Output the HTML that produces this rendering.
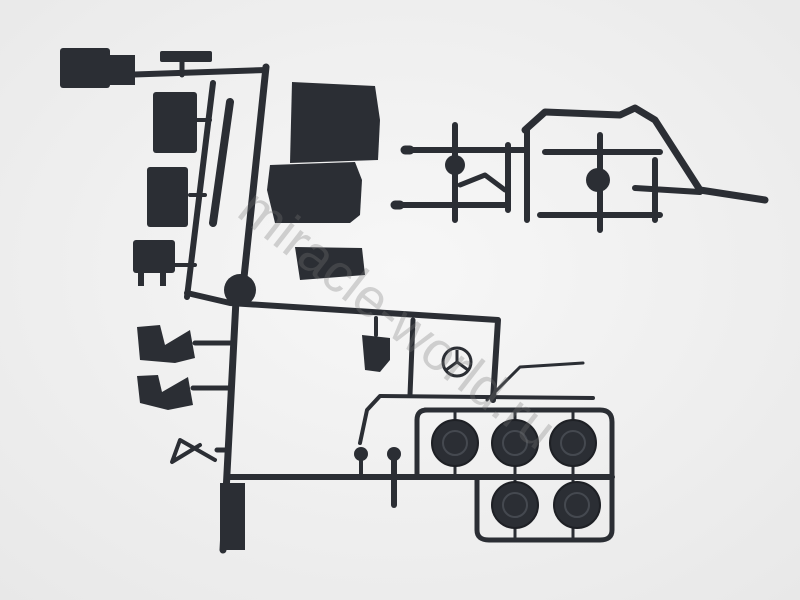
<!DOCTYPE html><html><head><style>html,body{margin:0;padding:0;width:800px;height:600px;overflow:hidden;background:#f2f2f2}</style></head><body>
<svg width="800" height="600" viewBox="0 0 800 600" xmlns="http://www.w3.org/2000/svg">
<defs><radialGradient id="bg" cx="50%" cy="45%" r="75%"><stop offset="0" stop-color="#f7f7f7"/><stop offset="1" stop-color="#e8e8e8"/></radialGradient></defs>
<rect width="800" height="600" fill="url(#bg)"/>
<g stroke="#2b2e34" fill="none" stroke-linecap="round" stroke-linejoin="round">
<path d="M120 75 L266 70" stroke-width="6"/>
<path d="M182 55 L182 75" stroke-width="5"/>
<path d="M266 67 L243 287" stroke-width="7"/>
<path d="M213 83 L187 297" stroke-width="6"/>
<path d="M230 102 L213 223" stroke-width="8"/>
<path d="M187 293 L230 303 L498 320 L493 400" stroke-width="6"/>
<path d="M236 300 L223 550" stroke-width="7"/>
<path d="M195 343 L232 343 M193 388 L230 388 M217 450 L228 450" stroke-width="5"/>
<path d="M197 120 L210 120 M190 195 L205 195 M175 265 L195 265" stroke-width="4"/>
<path d="M413 320 L410 395" stroke-width="5"/>
<path d="M376 318 L376 335" stroke-width="4"/>
<path d="M228 477 L612 477" stroke-width="6"/>
<path d="M360 443 L367 410 L380 396 L593 398" stroke-width="4"/>
<path d="M487 400 L520 367 L583 363" stroke-width="3"/>
<path d="M394 460 L394 505" stroke-width="6"/>
<path d="M361 460 L361 477" stroke-width="4"/>
<path d="M425 410 L600 410 Q612 410 612 422 L612 530 Q612 540 600 540 L489 540 Q477 540 477 530 L477 477 M417 477 L417 420 Q417 410 427 410" stroke-width="5"/>
<path d="M455 410 L455 477 M515 410 L515 540 M573 410 L573 540" stroke-width="3"/>
<path d="M200 445 L172 462 L180 440 L215 460" stroke-width="4"/>
<path d="M405 150 L515 150 M395 205 L505 205 M455 125 L455 220 M508 145 L508 210 M527 130 L527 220 M515 150 L527 150" stroke-width="6"/>
<path d="M460 185 L485 175 L505 190" stroke-width="5"/>
<path d="M525 130 L545 112 L620 115 L635 108 L655 120 L700 190 L765 200" stroke-width="7"/>
<path d="M545 152 L660 152 M540 215 L660 215 M600 135 L600 230 M655 160 L655 220 M635 188 L700 192" stroke-width="6"/>
<path d="M410 150 L405 150 M400 205 L395 205" stroke-width="9"/>
</g>
<g fill="#2b2e34">
<rect x="60" y="48" width="50" height="40" rx="3"/><rect x="110" y="55" width="25" height="30"/>
<rect x="160" y="51" width="52" height="11" rx="2"/>
<rect x="153" y="92" width="44" height="61" rx="3"/>
<rect x="147" y="167" width="41" height="60" rx="3"/>
<rect x="133" y="240" width="42" height="33" rx="3"/>
<rect x="138" y="272" width="6" height="14"/><rect x="160" y="272" width="6" height="14"/>
<path d="M292 82 L375 86 L380 120 L378 160 L290 163 Z"/>
<path d="M270 165 L355 162 L362 180 L360 215 L350 223 L275 223 L267 190 Z"/>
<path d="M295 247 L362 248 L365 275 L300 280 Z"/>
<circle cx="240" cy="290" r="16"/>
<path d="M137 327 L160 325 L165 345 L190 330 L195 358 L175 363 L140 360 Z"/>
<path d="M137 376 L158 375 L162 392 L188 377 L193 405 L168 410 L140 403 Z"/>
<path d="M362 335 L390 338 L390 360 L380 372 L365 370 Z"/>
<circle cx="361" cy="454" r="7"/><circle cx="394" cy="454" r="7"/>
<rect x="220" y="483" width="25" height="67"/>
<circle cx="455" cy="165" r="10"/><circle cx="598" cy="180" r="12"/>
</g>
<g fill="none" stroke="#2b2e34" stroke-width="3">
<circle cx="457" cy="362" r="14"/><path d="M457 362 L457 350 M457 362 L446 370 M457 362 L468 370"/>
</g>
<g fill="#2b2e34" stroke="#1e2025" stroke-width="2">
<circle cx="455" cy="443" r="23"/><circle cx="515" cy="443" r="23"/><circle cx="573" cy="443" r="23"/>
<circle cx="515" cy="505" r="23"/><circle cx="577" cy="505" r="23"/>
</g>
<g fill="none" stroke="#454950" stroke-width="2">
<circle cx="455" cy="443" r="12"/><circle cx="515" cy="443" r="12"/><circle cx="573" cy="443" r="12"/>
<circle cx="515" cy="505" r="12"/><circle cx="577" cy="505" r="12"/>
</g>
<text x="0" y="0" transform="translate(235,215) rotate(38)" font-family="Liberation Sans, sans-serif" font-size="54" fill="#777" fill-opacity="0.3">miracle-world.ru</text>
</svg>
</body></html>
